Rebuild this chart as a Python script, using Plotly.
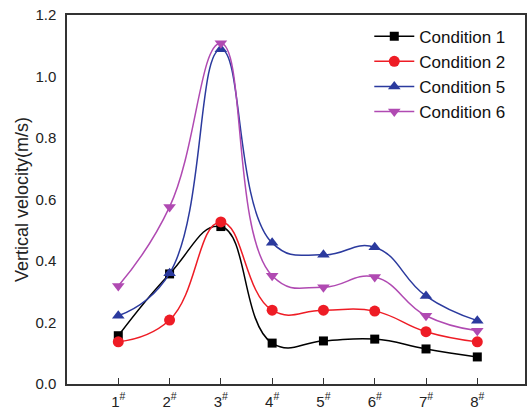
import plotly.graph_objects as go

# Monitoring points along the section
positions = [1, 2, 3, 4, 5, 6, 7, 8]
tick_labels = ["1<sup>#</sup>", "2<sup>#</sup>", "3<sup>#</sup>", "4<sup>#</sup>",
               "5<sup>#</sup>", "6<sup>#</sup>", "7<sup>#</sup>", "8<sup>#</sup>"]

# Vertical velocity (m/s) for each working condition
cond1 = [0.157, 0.358, 0.512, 0.133, 0.140, 0.146, 0.114, 0.088]
cond2 = [0.137, 0.208, 0.527, 0.240, 0.240, 0.237, 0.170, 0.137]
cond5 = [0.222, 0.360, 1.089, 0.459, 0.420, 0.445, 0.286, 0.206]
cond6 = [0.319, 0.576, 1.108, 0.352, 0.315, 0.348, 0.222, 0.173]

series = [
    ("Condition 1", cond1, "#000000", "square", 9),
    ("Condition 2", cond2, "#ee1c25", "circle", 11),
    ("Condition 5", cond5, "#2b3a9e", "triangle-up", 11),
    ("Condition 6", cond6, "#b04ab2", "triangle-down", 11),
]

fig = go.Figure()
for name, vals, color, symbol, size in series:
    fig.add_trace(go.Scatter(
        x=positions, y=vals, name=name, mode="lines+markers",
        line=dict(color=color, width=1.5, shape="spline", smoothing=1.3),
        marker=dict(symbol=symbol, size=size, color=color),
    ))

font_family = "Liberation Sans, Arial, sans-serif"
fig.update_layout(
    width=528, height=410,
    margin=dict(l=67, r=3, t=15, b=26),
    paper_bgcolor="white", plot_bgcolor="white",
    font=dict(family=font_family, size=15, color="#222"),
    showlegend=True,
    legend=dict(
        x=0.66, y=0.99, xanchor="left", yanchor="top",
        bgcolor="rgba(0,0,0,0)", borderwidth=0,
        font=dict(size=17, color="#111"),
        tracegroupgap=0, itemwidth=40,
    ),
    xaxis=dict(
        range=[0, 8.93], tickvals=positions, ticktext=tick_labels,
        showgrid=False, zeroline=False, automargin=False,
        showline=True, linecolor="#333", linewidth=1.5, mirror=True,
        ticks="inside", ticklen=6, tickcolor="#333", tickwidth=1,
        ticklabelstandoff=3,
        tickfont=dict(size=15, color="#222"),
    ),
    yaxis=dict(
        range=[0, 1.2], dtick=0.2, tickformat=".1f",
        showgrid=False, zeroline=False, automargin=False,
        showline=True, linecolor="#333", linewidth=1.5, mirror=True,
        ticks="", ticklabelstandoff=6,
        tickfont=dict(size=15, color="#222"),
        title=dict(text="Vertical velocity(m/s)", font=dict(size=18, color="#222"),
                   standoff=2),
    ),
)

fig.write_html("out.html")
